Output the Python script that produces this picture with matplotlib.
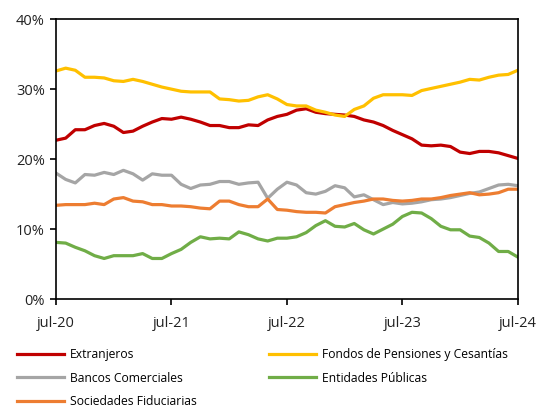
import matplotlib.pyplot as plt
import matplotlib.ticker as mtick
import pandas as pd

plt.rcParams['font.family'] = ['Open Sans', 'DejaVu Sans']

# monthly shares (%) from jul-20 to jul-24
months = pd.date_range('2020-07-01', '2024-07-01', freq='MS')

extranjeros = [22.7, 23.0, 24.2, 24.2, 24.8, 25.1, 24.7, 23.8, 24.0, 24.7, 25.3, 25.8,
               25.7, 26.0, 25.7, 25.3, 24.8, 24.8, 24.5, 24.5, 24.9, 24.8, 25.6, 26.1,
               26.4, 27.0, 27.2, 26.7, 26.5, 26.4, 26.3, 26.1, 25.6, 25.3, 24.8, 24.1,
               23.5, 22.9, 22.0, 21.9, 22.0, 21.8, 21.0, 20.8, 21.1, 21.1, 20.9, 20.5,
               20.1]
fondos = [32.6, 33.0, 32.7, 31.7, 31.7, 31.6, 31.2, 31.1, 31.4, 31.1, 30.7, 30.3,
          30.0, 29.7, 29.6, 29.6, 29.6, 28.6, 28.5, 28.3, 28.4, 28.9, 29.2, 28.6,
          27.8, 27.6, 27.6, 27.0, 26.7, 26.3, 26.1, 27.1, 27.6, 28.7, 29.2, 29.2,
          29.2, 29.1, 29.8, 30.1, 30.4, 30.7, 31.0, 31.4, 31.3, 31.7, 32.0, 32.1,
          32.7]
bancos = [18.0, 17.1, 16.6, 17.8, 17.7, 18.1, 17.8, 18.4, 17.9, 17.0, 17.9, 17.7,
          17.7, 16.4, 15.8, 16.3, 16.4, 16.8, 16.8, 16.4, 16.6, 16.7, 14.4, 15.7,
          16.7, 16.3, 15.2, 15.0, 15.4, 16.2, 15.9, 14.6, 14.9, 14.2, 13.5, 13.8,
          13.6, 13.7, 13.9, 14.2, 14.3, 14.5, 14.8, 15.1, 15.3, 15.8, 16.3, 16.4,
          16.2]
entidades = [8.1, 8.0, 7.4, 6.9, 6.2, 5.8, 6.2, 6.2, 6.2, 6.5, 5.8, 5.8,
             6.5, 7.1, 8.1, 8.9, 8.6, 8.7, 8.6, 9.6, 9.2, 8.6, 8.3, 8.7,
             8.7, 8.9, 9.5, 10.5, 11.2, 10.4, 10.3, 10.8, 9.9, 9.3, 10.0, 10.7,
             11.8, 12.4, 12.3, 11.5, 10.4, 9.9, 9.9, 9.0, 8.8, 8.0, 6.8, 6.8,
             6.0]
sociedades = [13.4, 13.5, 13.5, 13.5, 13.7, 13.5, 14.3, 14.5, 14.0, 13.9, 13.5, 13.5,
              13.3, 13.3, 13.2, 13.0, 12.9, 14.0, 14.0, 13.5, 13.2, 13.2, 14.3, 12.8,
              12.7, 12.5, 12.4, 12.4, 12.3, 13.2, 13.5, 13.8, 14.0, 14.3, 14.3, 14.1,
              14.0, 14.1, 14.3, 14.3, 14.5, 14.8, 15.0, 15.2, 14.9, 15.0, 15.2, 15.7,
              15.7]

tick_labels = ['jul-20', 'jul-21', 'jul-22', 'jul-23', 'jul-24']

fig = plt.figure(figsize=(5.55, 4.08), dpi=100)
ax = fig.add_axes([0.101, 0.267, 0.832, 0.686])

lw = 2.3
l1, = ax.plot(range(len(months)), extranjeros, color='#C00000', lw=lw, label='Extranjeros')
l2, = ax.plot(range(len(months)), fondos, color='#FFC000', lw=lw, label='Fondos de Pensiones y Cesantías')
l3, = ax.plot(range(len(months)), bancos, color='#A5A5A5', lw=lw, label='Bancos Comerciales')
l4, = ax.plot(range(len(months)), entidades, color='#70AD47', lw=lw, label='Entidades Públicas')
l5, = ax.plot(range(len(months)), sociedades, color='#ED7D31', lw=lw, label='Sociedades Fiduciarias')

ax.set_xlim(0, len(months) - 1)
ax.set_ylim(0, 40)
ax.set_xticks(range(0, len(months), 12))
ax.set_xticklabels(tick_labels)
ax.set_yticks([0, 10, 20, 30, 40])
ax.yaxis.set_major_formatter(mtick.FuncFormatter(lambda v, p: '{:.0f}%'.format(v)))
ax.tick_params(labelsize=10.5, length=4, width=1.2, color='black', labelcolor='#222222', pad=4)
ax.tick_params(axis='x', pad=8)
for s in ax.spines.values():
    s.set_linewidth(1.2)
    s.set_color('black')

fig.legend([l1, l3, l5, l2, l4],
           [l.get_label() for l in [l1, l3, l5, l2, l4]],
           ncol=2, frameon=False, loc='upper left', bbox_to_anchor=(0.022, 0.158),
           fontsize=8.7, handlelength=3.9, handletextpad=0.45, columnspacing=6.0,
           labelspacing=0.85, borderaxespad=0)

fig.savefig('out.png', dpi=100)
